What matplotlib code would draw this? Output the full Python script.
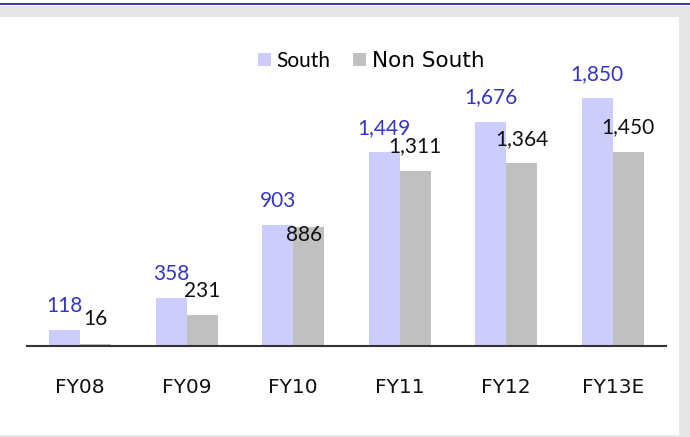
import matplotlib
matplotlib.use('Agg')
import matplotlib.pyplot as plt
from matplotlib.patches import Rectangle
from matplotlib.lines import Line2D
import numpy as np

years = ['FY08', 'FY09', 'FY10', 'FY11', 'FY12', 'FY13E']
south = [118, 358, 903, 1449, 1676, 1850]
non_south = [16, 231, 886, 1311, 1364, 1450]

south_color = '#ccccff'
non_south_color = '#c0c0c0'
south_text = '#3535c4'

fig = plt.figure(figsize=(6.9, 4.37), dpi=100)
W, H = 690, 437

# frame: navy rule on top, grey border on top/right/bottom
fig.lines.append(Line2D([0, 1], [1 - 4 / H, 1 - 4 / H], transform=fig.transFigure,
                        color='#000080', lw=1.1))
grey = '#e6e6e6'
fig.patches.append(Rectangle((0, 1 - 17 / H), 1, 11 / H, transform=fig.transFigure,
                             facecolor=grey, edgecolor='none'))
fig.patches.append(Rectangle((679 / W, 0), 11 / W, 1 - 6 / H, transform=fig.transFigure,
                             facecolor=grey, edgecolor='none'))
fig.patches.append(Rectangle((0, 0), 1, 2 / H, transform=fig.transFigure,
                             facecolor=grey, edgecolor='none'))

ax = fig.add_axes([27 / W, 91 / H, 639 / W, 329 / H])
ax.set_facecolor('none')

x = np.arange(len(years))
w = 0.29
b1 = ax.bar(x - w / 2, south, w, color=south_color, label='South', zorder=2)
b2 = ax.bar(x + w / 2, non_south, w, color=non_south_color, label='Non South', zorder=2)

ax.set_xlim(-0.5, len(years) - 0.5)
ax.set_ylim(0, 329 / 0.1338)

for s in ['top', 'left', 'right']:
    ax.spines[s].set_visible(False)
ax.spines['bottom'].set_linewidth(1.5)
ax.spines['bottom'].set_color('#333333')
ax.spines['bottom'].set_zorder(5)
ax.set_yticks([])
ax.set_xticks(x)
ax.set_xticklabels(years, fontsize=14.5, family='DejaVu Sans', color='#111111')
ax.tick_params(axis='x', length=0, pad=23)

# value labels (886 sits down inside its bar)
nudge = {(1, 2): (-5, -14)}
for k, (bars, vals, col) in enumerate([(b1, south, south_text), (b2, non_south, '#111111')]):
    for i, (r, v) in enumerate(zip(bars, vals)):
        dx, dy = nudge.get((k, i), (0, 18.5))
        ax.annotate(f'{v:,}', (r.get_x() + r.get_width() / 2, v),
                    xytext=(dx, dy), textcoords='offset pixels',
                    ha='center', va='baseline', fontsize=15, family='Lato',
                    color=col, zorder=6)

leg = ax.legend(ncol=2, frameon=False, loc='center left',
                bbox_to_anchor=(248 / W, 1 - 61 / H), bbox_transform=fig.transFigure,
                borderpad=0, handlelength=0.62, handleheight=0.62,
                handletextpad=0.25, columnspacing=1.1, prop={'family': 'Lato', 'size': 15})
leg.get_texts()[1].set_fontfamily('DejaVu Sans')
leg.get_texts()[1].set_fontsize(15.5)

fig.savefig('out.png', dpi=100)
